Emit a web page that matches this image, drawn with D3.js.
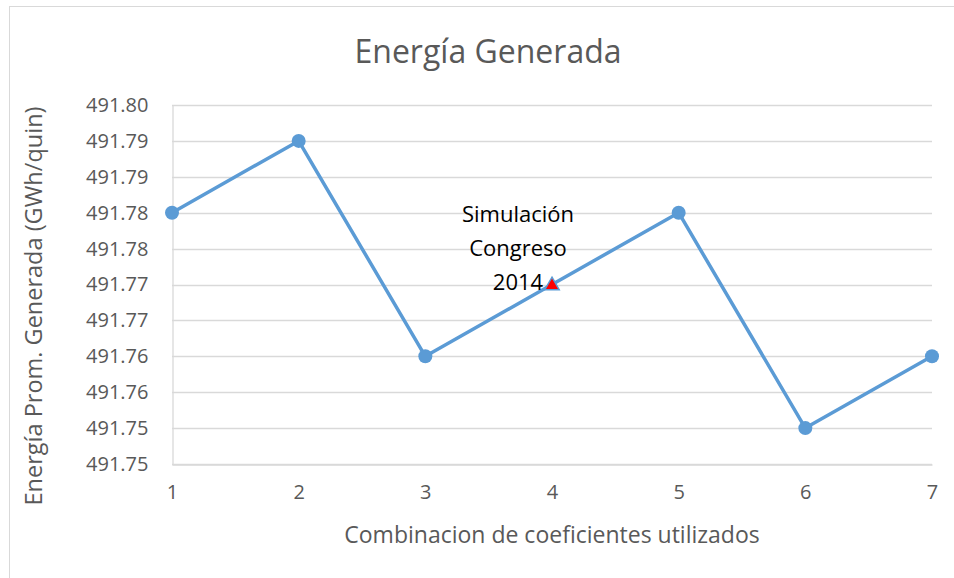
<!DOCTYPE html>
<html>
<head>
<meta charset="utf-8">
<script src="https://cdn.jsdelivr.net/npm/d3@7"></script>
<style>
  body { margin: 0; background: #fff; }
  text { font-family: "Open Sans", "Noto Sans", sans-serif; }
</style>
</head>
<body>
<div id="container"></div>
<script>
/* DATA */
const combos = [1, 2, 3, 4, 5, 6, 7]
const energy = [491.785, 491.795, 491.765, 491.775, 491.785, 491.755, 491.765]
const yTicks = [491.750, 491.755, 491.760, 491.765, 491.770, 491.775, 491.780, 491.785, 491.790, 491.795, 491.800]
const yTickLabels = ["491.75", "491.75", "491.76", "491.76", "491.77", "491.77", "491.78", "491.78", "491.79", "491.79", "491.80"]
const highlight = 4
const noteLines = ["Simulación", "Congreso", "2014"]

/* CONSTANTS */
const width = 954, height = 578
const margin = { top: 105, bottom: 114, left: 172, right: 22 }
const grey = "#595959", gridColor = "#d9d9d9", blue = "#5b9bd5"

/* SCALES */
const xScale = d3.scaleLinear()
  .domain([1, 7])
  .range([margin.left, width - margin.right])

const yScale = d3.scaleLinear()
  .domain([491.75, 491.80])
  .range([height - margin.bottom, margin.top])

/* SVG */
const svg = d3.select("#container")
  .append("svg")
  .attr("width", width)
  .attr("height", height)

// chart border
svg.append("rect")
  .attr("x", 9.5).attr("y", 6.5)
  .attr("width", width + 20).attr("height", height + 20)
  .attr("fill", "none")
  .attr("stroke", gridColor)

// gridlines
svg.append("g")
  .selectAll("line")
  .data(yTicks)
  .join("line")
  .attr("x1", margin.left)
  .attr("x2", width - margin.right)
  .attr("y1", d => Math.round(yScale(d)) + 0.5)
  .attr("y2", d => Math.round(yScale(d)) + 0.5)
  .attr("stroke", gridColor)
  .attr("stroke-width", 1.3)

// y axis
const yAxis = d3.axisLeft(yScale)
  .tickValues(yTicks)
  .tickFormat((d, i) => yTickLabels[i])
  .tickSize(0)
  .tickPadding(24)
const gy = svg.append("g")
  .attr("transform", `translate(${margin.left + 0.5},0)`)
  .call(yAxis)
gy.select(".domain").attr("stroke", gridColor).attr("stroke-width", 1.3)
gy.selectAll("text").attr("fill", grey).style("font-size", "20px")

// x axis
const xAxis = d3.axisBottom(xScale)
  .tickValues(combos)
  .tickFormat(d3.format("d"))
  .tickSize(0)
  .tickPadding(20)
const gx = svg.append("g")
  .attr("transform", `translate(0,${height - margin.bottom + 0.5})`)
  .call(xAxis)
gx.select(".domain").attr("stroke", gridColor).attr("stroke-width", 1.3)
gx.selectAll("text").attr("fill", grey).style("font-size", "20px")

// line
const line = d3.line()
  .x((d, i) => xScale(combos[i]))
  .y(d => yScale(d))
svg.append("path")
  .datum(energy)
  .attr("d", line)
  .attr("fill", "none")
  .attr("stroke", blue)
  .attr("stroke-width", 3.5)
  .attr("stroke-linejoin", "round")

// circle markers, all points except the highlighted one
svg.selectAll("circle")
  .data(combos.filter(c => c !== highlight))
  .join("circle")
  .attr("cx", c => xScale(c))
  .attr("cy", c => yScale(energy[combos.indexOf(c)]))
  .attr("r", 7)
  .attr("fill", blue)

// highlighted triangle
const hv = energy[combos.indexOf(highlight)]
svg.append("path")
  .attr("d", d3.symbol().type(d3.symbolTriangle).size(90))
  .attr("transform", `translate(${xScale(highlight)},${yScale(hv) + 1})`)
  .attr("fill", "#ff0000")
  .attr("stroke", blue)
  .attr("stroke-width", 1.5)

// annotation
svg.append("g")
  .selectAll("text")
  .data(noteLines)
  .join("text")
  .attr("x", xScale(highlight) - 34)
  .attr("y", (d, i) => yScale(hv) - 63 + i * 34)
  .attr("text-anchor", "middle")
  .attr("fill", "#000")
  .style("font-size", "22px")
  .text(d => d)

// title
svg.append("text")
  .attr("x", 488)
  .attr("y", 63)
  .attr("text-anchor", "middle")
  .attr("fill", grey)
  .style("font-size", "32px")
  .text("Energía Generada")

// axis titles
svg.append("text")
  .attr("x", 552)
  .attr("y", 543)
  .attr("text-anchor", "middle")
  .attr("fill", grey)
  .style("font-size", "23px")
  .text("Combinacion de coeficientes utilizados")

svg.append("text")
  .attr("transform", "rotate(-90)")
  .attr("x", -306)
  .attr("y", 42)
  .attr("text-anchor", "middle")
  .attr("fill", grey)
  .style("font-size", "23.5px")
  .text("Energía Prom. Generada (GWh/quin)")
</script>
</body>
</html>
